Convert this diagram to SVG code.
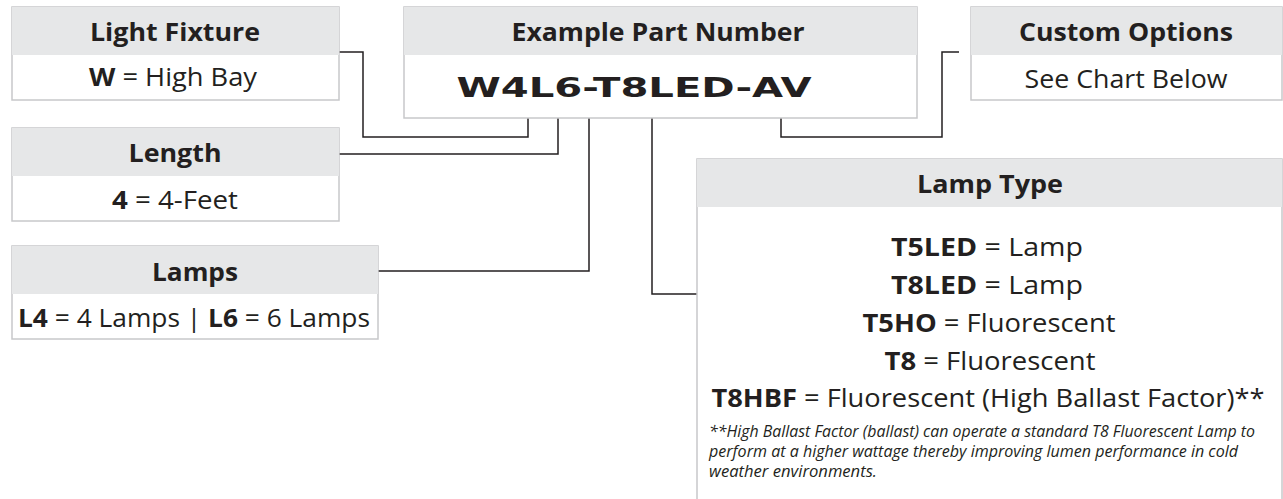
<svg xmlns="http://www.w3.org/2000/svg" width="1283" height="499" viewBox="0 0 1283 499">
<style>
.hdr{fill:#e6e7e8;stroke:none}
.body{fill:#ffffff;stroke:#c7c8ca;stroke-width:1.5}
.t{font-family:"Open Sans","Liberation Sans",sans-serif;fill:#231f20;text-anchor:middle}
.h{font-weight:700;font-size:25px}
.v{font-size:25px}
.b{font-weight:700}
.pn{font-family:"DejaVu Sans","Liberation Sans",sans-serif;font-weight:700;font-size:27px;fill:#231f20;text-anchor:middle}
.fn{font-family:"Open Sans","Liberation Sans",sans-serif;font-style:italic;font-size:15.5px;fill:#231f20}
.c{fill:none;stroke:#231f20;stroke-width:1.5}
</style>
<rect width="1283" height="499" fill="#ffffff"/>
<g id="connectors">
<path class="c" d="M339,52 H363 V137 H528 V118"/>
<path class="c" d="M339,154 H558 V118"/>
<path class="c" d="M378,271 H589 V118"/>
<path class="c" d="M652,118 V294 H697"/>
<path class="c" d="M781,118 V137 H942 V52 H959"/>
</g>
<g id="light-fixture">
<rect class="body" x="12" y="7" width="327" height="93"/>
<rect class="hdr" x="12" y="7" width="327" height="48"/>
<text class="t h" x="175" y="41" textLength="170" lengthAdjust="spacingAndGlyphs">Light Fixture</text>
<text class="t v" x="173" y="86" textLength="168" lengthAdjust="spacingAndGlyphs"><tspan class="b">W</tspan> = High Bay</text>
</g>
<g id="part-number">
<rect class="body" x="404" y="7" width="513" height="111"/>
<rect class="hdr" x="404" y="7" width="513" height="48"/>
<text class="t h" x="658" y="41" textLength="293" lengthAdjust="spacingAndGlyphs">Example Part Number</text>
<text class="pn" x="634" y="97" textLength="355" lengthAdjust="spacingAndGlyphs">W4L6-T8LED-AV</text>
</g>
<g id="custom-options">
<rect class="body" x="971" y="7" width="311" height="93"/>
<rect class="hdr" x="971" y="7" width="311" height="48"/>
<text class="t h" x="1126" y="41" textLength="214" lengthAdjust="spacingAndGlyphs">Custom Options</text>
<text class="t v" x="1126" y="88" textLength="203" lengthAdjust="spacingAndGlyphs">See Chart Below</text>
</g>
<g id="length">
<rect class="body" x="12" y="128" width="327" height="93"/>
<rect class="hdr" x="12" y="128" width="327" height="48"/>
<text class="t h" x="175" y="162" textLength="93" lengthAdjust="spacingAndGlyphs">Length</text>
<text class="t v" x="175" y="209" textLength="126" lengthAdjust="spacingAndGlyphs"><tspan class="b">4</tspan> = 4-Feet</text>
</g>
<g id="lamps">
<rect class="body" x="12" y="246" width="366" height="93"/>
<rect class="hdr" x="12" y="246" width="366" height="48"/>
<text class="t h" x="195" y="281" textLength="86" lengthAdjust="spacingAndGlyphs">Lamps</text>
<text class="t v" x="194" y="327" textLength="352" lengthAdjust="spacingAndGlyphs"><tspan class="b">L4</tspan> = 4 Lamps | <tspan class="b">L6</tspan> = 6 Lamps</text>
</g>
<g id="lamp-type">
<rect class="body" x="697" y="159" width="585" height="345"/>
<rect class="hdr" x="697" y="159" width="585" height="48"/>
<text class="t h" x="990" y="193" textLength="146" lengthAdjust="spacingAndGlyphs">Lamp Type</text>
<text class="t v" x="987" y="256" textLength="192" lengthAdjust="spacingAndGlyphs" font-size="26"><tspan class="b">T5LED</tspan> = Lamp</text>
<text class="t v" x="987" y="294" textLength="192" lengthAdjust="spacingAndGlyphs" font-size="26"><tspan class="b">T8LED</tspan> = Lamp</text>
<text class="t v" x="989" y="332" textLength="253" lengthAdjust="spacingAndGlyphs" font-size="26"><tspan class="b">T5HO</tspan> = Fluorescent</text>
<text class="t v" x="990" y="370" textLength="211" lengthAdjust="spacingAndGlyphs" font-size="26"><tspan class="b">T8</tspan> = Fluorescent</text>
<text class="t v" x="988" y="407" textLength="553" lengthAdjust="spacingAndGlyphs" font-size="26"><tspan class="b">T8HBF</tspan> = Fluorescent (High Ballast Factor)**</text>
<text class="fn" x="709" y="437" textLength="546" lengthAdjust="spacingAndGlyphs">**High Ballast Factor (ballast) can operate a standard T8 Fluorescent Lamp to</text>
<text class="fn" x="709" y="457" textLength="529" lengthAdjust="spacingAndGlyphs">perform at a higher wattage thereby improving lumen performance in cold</text>
<text class="fn" x="709" y="477" textLength="168" lengthAdjust="spacingAndGlyphs">weather environments.</text>
</g>
</svg>
